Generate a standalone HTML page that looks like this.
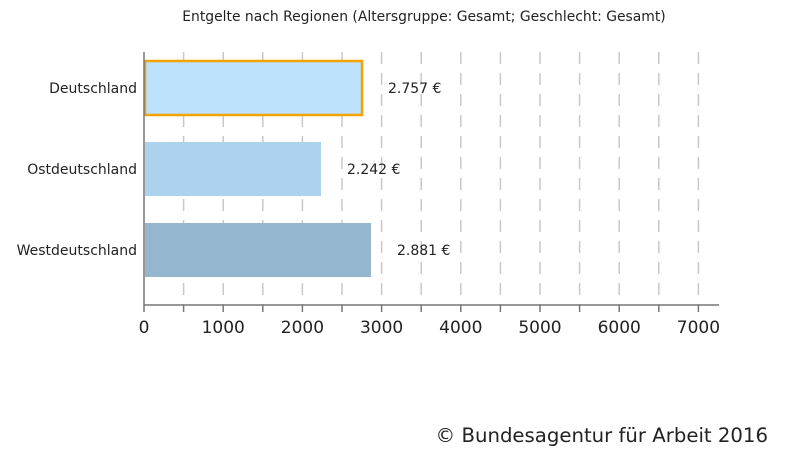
<!DOCTYPE html>
<html><head><meta charset="utf-8"><style>
body{margin:0;background:#fff;}
svg{display:block;font-family:"DejaVu Sans","Liberation Sans",sans-serif;}
</style></head><body>
<svg width="800" height="451" viewBox="0 0 800 451">
<text x="424" y="21" font-size="13.9" text-anchor="middle" fill="#222">Entgelte nach Regionen (Altersgruppe: Gesamt; Geschlecht: Gesamt)</text>
<g stroke="#c8c8c8" stroke-width="1.5" stroke-dasharray="12,9">
<line x1="183.6" y1="52" x2="183.6" y2="305"/>
<line x1="223.2" y1="52" x2="223.2" y2="305"/>
<line x1="262.8" y1="52" x2="262.8" y2="305"/>
<line x1="302.4" y1="52" x2="302.4" y2="305"/>
<line x1="342" y1="52" x2="342" y2="305"/>
<line x1="381.6" y1="52" x2="381.6" y2="305"/>
<line x1="421.2" y1="52" x2="421.2" y2="305"/>
<line x1="460.8" y1="52" x2="460.8" y2="305"/>
<line x1="500.4" y1="52" x2="500.4" y2="305"/>
<line x1="540" y1="52" x2="540" y2="305"/>
<line x1="579.6" y1="52" x2="579.6" y2="305"/>
<line x1="619.2" y1="52" x2="619.2" y2="305"/>
<line x1="658.8" y1="52" x2="658.8" y2="305"/>
<line x1="698.4" y1="52" x2="698.4" y2="305"/>
</g>
<rect x="145" y="61" width="217" height="54" fill="#bde2fb" stroke="#f5a100" stroke-width="2.5"/>
<rect x="145" y="142" width="176" height="54" fill="#acd2ee"/>
<rect x="145" y="223" width="226" height="54" fill="#95b6cf"/>
<line x1="144" y1="52" x2="144" y2="312" stroke="#777" stroke-width="1.5"/>
<line x1="144" y1="305" x2="719" y2="305" stroke="#777" stroke-width="1.5"/>
<g stroke="#777" stroke-width="1.5">
<line x1="183.6" y1="305" x2="183.6" y2="312"/><line x1="223.2" y1="305" x2="223.2" y2="312"/><line x1="262.8" y1="305" x2="262.8" y2="312"/><line x1="302.4" y1="305" x2="302.4" y2="312"/><line x1="342" y1="305" x2="342" y2="312"/><line x1="381.6" y1="305" x2="381.6" y2="312"/><line x1="421.2" y1="305" x2="421.2" y2="312"/><line x1="460.8" y1="305" x2="460.8" y2="312"/><line x1="500.4" y1="305" x2="500.4" y2="312"/><line x1="540" y1="305" x2="540" y2="312"/><line x1="579.6" y1="305" x2="579.6" y2="312"/><line x1="619.2" y1="305" x2="619.2" y2="312"/><line x1="658.8" y1="305" x2="658.8" y2="312"/><line x1="698.4" y1="305" x2="698.4" y2="312"/>
</g>
<g font-size="14" fill="#222" text-anchor="end">
<text x="137" y="93">Deutschland</text>
<text x="137" y="174">Ostdeutschland</text>
<text x="137" y="255">Westdeutschland</text>
</g>
<g font-size="14" fill="#222">
<text x="388" y="93">2.757 €</text>
<text x="347" y="174">2.242 €</text>
<text x="397" y="255">2.881 €</text>
</g>
<g font-size="17" fill="#222" text-anchor="middle">
<text x="144" y="333">0</text><text x="223.2" y="333">1000</text><text x="302.4" y="333">2000</text><text x="381.6" y="333">3000</text><text x="460.8" y="333">4000</text><text x="540" y="333">5000</text><text x="619.2" y="333">6000</text><text x="698.4" y="333">7000</text>
</g>
<text x="768" y="442" font-size="19.7" fill="#222" text-anchor="end">© Bundesagentur für Arbeit 2016</text>
</svg>
</body></html>
